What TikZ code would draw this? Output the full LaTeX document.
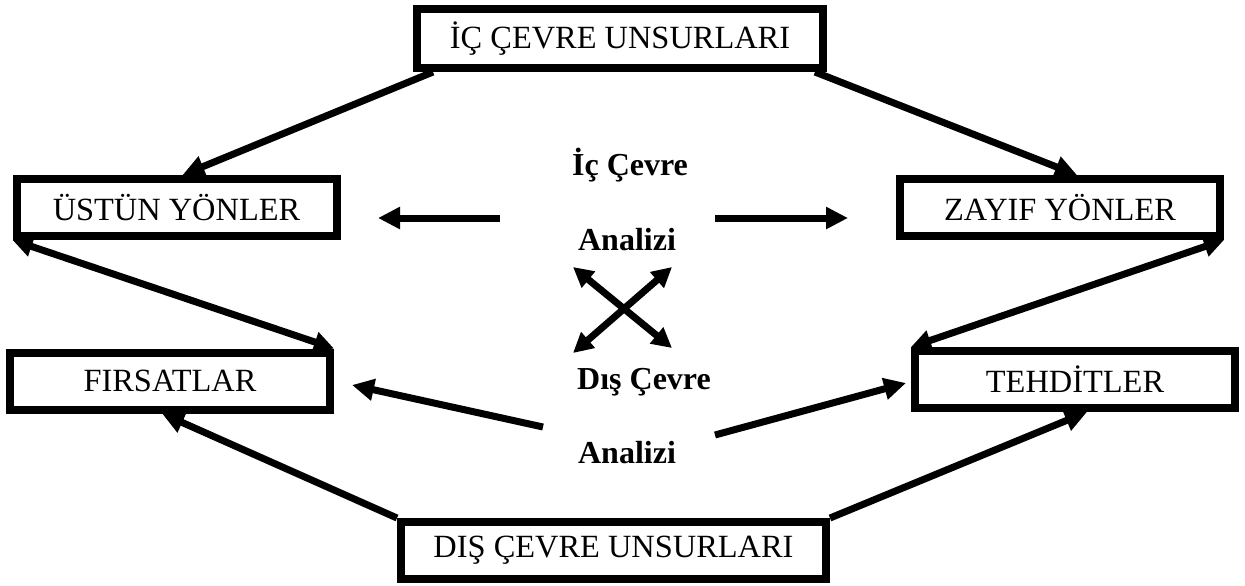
\documentclass[tikz,border=0pt]{standalone}
\usepackage{fontspec}
\setmainfont{Liberation Serif}
\usetikzlibrary{arrows.meta}
\tikzset{
 kutu/.style={draw,line width=4pt,fill=white,inner sep=0pt,
  minimum width=160pt,minimum height=28.5pt,
  font=\fontsize{16.2}{19}\selectfont},
 etiket/.style={inner sep=0pt,font=\fontsize{16}{19}\selectfont\bfseries},
 ok/.style={line width=3.5pt,-{Triangle[length=11pt,width=10.5pt]}},
 ciftok/.style={line width=3.5pt,{Triangle[length=10pt,width=10pt]}-{Triangle[length=10pt,width=10pt]}}
}
\begin{document}
\begin{tikzpicture}[x=0.5pt,y=-0.5pt]
\useasboundingbox (0,0) rectangle (1245,585);
%
\node[kutu,minimum width=203pt,minimum height=29.5pt] (ic) at (620,38.5) {İÇ ÇEVRE UNSURLARI};
\node[kutu] (ustun) at (176.5,207.5) {ÜSTÜN YÖNLER};
\node[kutu] (zayif) at (1060,207.5) {ZAYIF YÖNLER};
\node[kutu] (firsat) at (170,381) {FIRSATLAR};
\node[kutu] (tehdit) at (1075,379.5) {TEHDİTLER};
\node[kutu,minimum width=212.5pt] (dis) at (613.5,550.5) {DIŞ ÇEVRE UNSURLARI};
%
\node[etiket] (icc) at (630,165) {İç Çevre};
\node[etiket] (ican) at (627,240) {Analizi};
\node[etiket] (disc) at (644,382) {Dış Çevre};
\node[etiket] (disan) at (627,453) {Analizi};
%
\coordinate (sol1) at (500,218);  \coordinate (sol2) at (378,218);
\coordinate (sag1) at (715,218);  \coordinate (sag2) at (848,218);
\coordinate (x1) at (573,267);    \coordinate (x2) at (672,348);
\coordinate (x3) at (573,353);    \coordinate (x4) at (672,267);
\coordinate (alt1) at (543,427);  \coordinate (alt2) at (352,385);
\coordinate (alt3) at (715,435);  \coordinate (alt4) at (906,383);
%
\draw[ok] ([xshift=10pt]ic.south west) -- ([xshift=3pt]ustun.north);
\draw[ok] ([xshift=-6pt]ic.south east) -- ([xshift=8.5pt]zayif.north);
\draw[ciftok] (ustun.south west) -- (firsat.north east);
\draw[ciftok] (zayif.south east) -- (tehdit.north west);
\draw[ok] (dis.north west) -- ([xshift=-4pt]firsat.south);
\draw[ok] (dis.north east) -- ([xshift=6pt]tehdit.south);
%
\draw[ok] (sol1) -- (sol2);
\draw[ok] (sag1) -- (sag2);
\draw[ciftok] (x1) -- (x2);
\draw[ciftok] (x3) -- (x4);
\draw[ok] (alt1) -- (alt2);
\draw[ok] (alt3) -- (alt4);
\end{tikzpicture}
\end{document}
